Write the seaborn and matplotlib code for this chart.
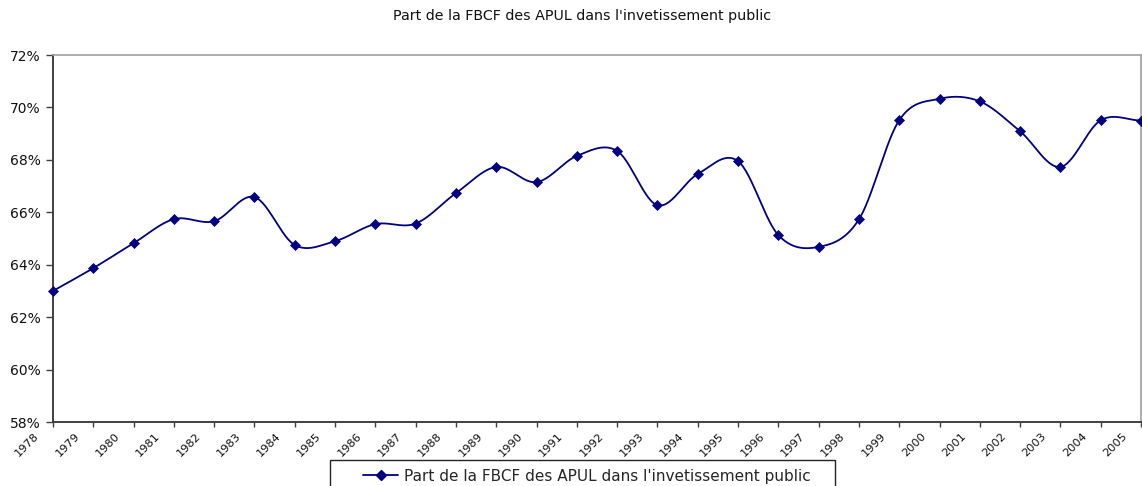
import numpy as np
import pandas as pd
import seaborn as sns
import matplotlib
matplotlib.use("Agg")
import matplotlib.pyplot as plt
import matplotlib.transforms as mtransforms
from matplotlib.lines import Line2D
from matplotlib.patches import Rectangle

# ---- data ----
years = list(range(1978, 2006))
share = [63.0, 63.87, 64.82, 65.74, 65.66, 66.58, 64.75, 64.90, 65.55, 65.57,
         66.73, 67.73, 67.15, 68.15, 68.34, 66.27, 67.46, 67.95, 65.13, 64.68,
         65.73, 69.51, 70.33, 70.23, 69.09, 67.73, 69.51, 69.50]
series_name = "Part de la FBCF des APUL dans l'invetissement public"
title_text = "Part de la FBCF des APUL dans l'invetissement public"
ytick_values = [58, 60, 62, 64, 66, 68, 70, 72]
ytick_labels = ["58%", "60%", "62%", "64%", "66%", "68%", "70%", "72%"]
xtick_labels = [str(y) for y in years]

df = pd.DataFrame({"year": years, "share": share})

# smoothed curve (Catmull-Rom, like Excel's smoothed line) built from the data
def smooth(x, y, n=30):
    x = np.asarray(x, float); y = np.asarray(y, float)
    P = np.column_stack([x, y])
    out = []
    for i in range(len(P) - 1):
        p0 = P[i - 1] if i > 0 else P[i]
        p1 = P[i]; p2 = P[i + 1]
        p3 = P[i + 2] if i + 2 < len(P) else P[i + 1]
        m1 = (p2 - p0) / 2.0
        m2 = (p3 - p1) / 2.0
        if i == 0:
            m1 = (p2 - p1)
        if i + 2 >= len(P):
            m2 = (p2 - p1)
        t = np.linspace(0, 1, n, endpoint=(i == len(P) - 2))[:, None]
        h00 = 2 * t**3 - 3 * t**2 + 1
        h10 = t**3 - 2 * t**2 + t
        h01 = -2 * t**3 + 3 * t**2
        h11 = t**3 - t**2
        out.append(h00 * p1 + h10 * m1 + h01 * p2 + h11 * m2)
    C = np.vstack(out)
    return C[:, 0], C[:, 1]

sx, sy = smooth(df["year"], df["share"])
curve = pd.DataFrame({"x": sx, "y": sy})

sns.set_theme(style="white")
plt.rcParams["font.family"] = ["DejaVu Sans"]

W, H = 1142, 486
fig = plt.figure(figsize=(W / 100, H / 100), dpi=100)
ax = fig.add_axes([53 / W, 1 - 422 / H, (1141 - 53) / W, (422 - 55) / H])

navy = "#000080"
sns.lineplot(data=curve, x="x", y="y", sort=False, estimator=None, ax=ax,
             color=navy, linewidth=1.3, clip_on=False)
sns.scatterplot(data=df, x="year", y="share", ax=ax, marker="D", s=26,
                color=navy, edgecolor=navy, linewidth=0.5, clip_on=False, zorder=5)

ax.set_xlim(1978, 2005)
ax.set_ylim(58, 72)
ax.set_yticks(ytick_values)
ax.set_yticklabels(ytick_labels)
ax.set_xticks(years)
ax.set_xticklabels(xtick_labels, rotation=45, ha="right", va="top",
                   rotation_mode="anchor")
ax.set_xlabel("")
ax.set_ylabel("")

ax.tick_params(axis="y", which="major", left=True, length=5, width=1,
               color="#404040", pad=4, labelsize=10, labelcolor="#111111")
ax.tick_params(axis="x", which="major", bottom=True, length=3.5, width=1,
               color="#404040", pad=3, labelsize=8.2, labelcolor="#111111")

shift = mtransforms.ScaledTranslation(-19 / 100, 0, fig.dpi_scale_trans)
for lab in ax.get_xticklabels():
    lab.set_transform(lab.get_transform() + shift)

for side in ["left", "bottom"]:
    ax.spines[side].set_color("#404040")
    ax.spines[side].set_linewidth(1.4)
for side in ["top", "right"]:
    ax.spines[side].set_visible(True)
    ax.spines[side].set_color("#a0a0a0")
    ax.spines[side].set_linewidth(1.2)
ax.grid(False)

fig.text(582 / W, 1 - 16 / H, title_text, ha="center", va="center",
         fontsize=10.3, color="#111111")

# legend box
rect = Rectangle((330 / W, 1 - 500 / H), (835 - 330) / W, 40 / H,
                 transform=fig.transFigure, facecolor="white",
                 edgecolor="#222222", linewidth=1.0, clip_on=False)
fig.patches.append(rect)
handle = Line2D([0], [0], color=navy, linewidth=1.3, marker="D",
                markersize=5, markerfacecolor=navy, markeredgecolor=navy)
fig.legend([handle], [series_name], loc="center",
           bbox_to_anchor=(587 / W, 1 - 476 / H), frameon=False,
           fontsize=11, handlelength=2.3, handletextpad=0.4, borderpad=0)

fig.savefig("out.png", dpi=100)
